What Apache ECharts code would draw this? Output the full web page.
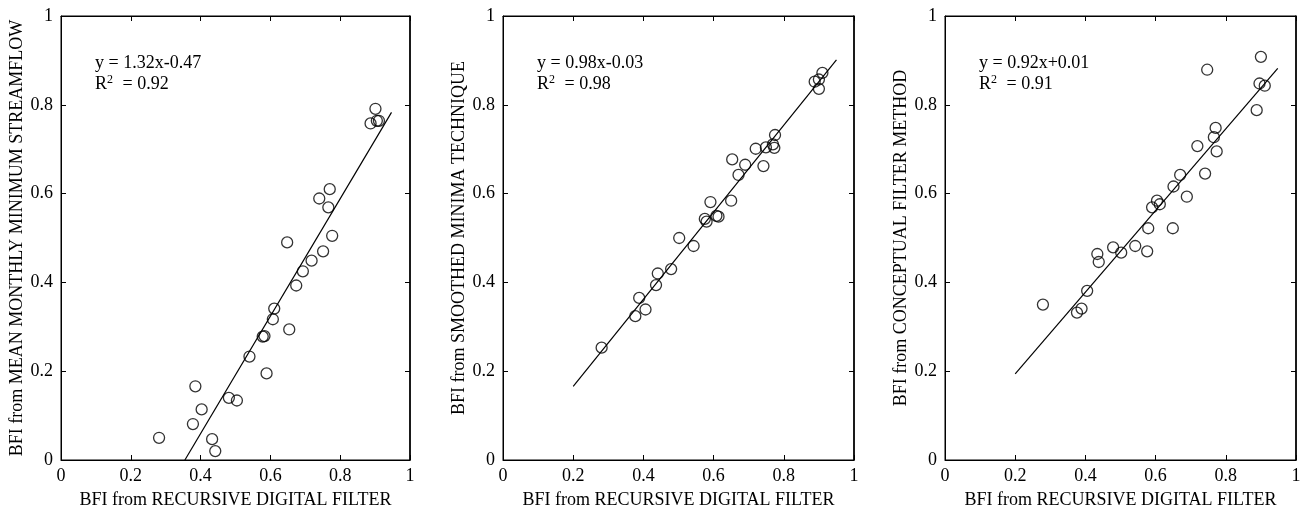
<!DOCTYPE html>
<html>
<head>
<meta charset="utf-8">
<script src="https://cdn.jsdelivr.net/npm/echarts@6/dist/echarts.min.js"></script>
<style>
  html, body { margin: 0; padding: 0; background: #fff; }
  #chart { width: 1302px; height: 512px; }
</style>
</head>
<body>
<div id="chart"></div>
<script>
// BFI from recursive digital filter (x) vs other methods (y)
const x1 = [0.281, 0.378, 0.385, 0.403, 0.433, 0.442, 0.481, 0.504, 0.540, 0.578, 0.583, 0.589, 0.607, 0.611, 0.648, 0.654, 0.674, 0.693, 0.718, 0.740, 0.751, 0.766, 0.770, 0.777, 0.887, 0.901, 0.905, 0.911];
const y1 = [0.050, 0.081, 0.166, 0.114, 0.047, 0.020, 0.140, 0.134, 0.233, 0.278, 0.279, 0.195, 0.317, 0.341, 0.490, 0.294, 0.393, 0.425, 0.449, 0.589, 0.470, 0.569, 0.610, 0.505, 0.758, 0.791, 0.764, 0.764];

const x2 = [0.281, 0.377, 0.388, 0.406, 0.436, 0.441, 0.479, 0.502, 0.543, 0.575, 0.580, 0.591, 0.608, 0.614, 0.650, 0.653, 0.671, 0.690, 0.720, 0.742, 0.749, 0.769, 0.773, 0.775, 0.888, 0.900, 0.900, 0.910];
const y2 = [0.253, 0.324, 0.365, 0.339, 0.394, 0.420, 0.430, 0.500, 0.482, 0.543, 0.537, 0.581, 0.550, 0.548, 0.584, 0.677, 0.642, 0.665, 0.701, 0.662, 0.704, 0.711, 0.703, 0.732, 0.852, 0.857, 0.836, 0.872];

const x3 = [0.279, 0.376, 0.389, 0.405, 0.434, 0.438, 0.479, 0.502, 0.542, 0.576, 0.579, 0.590, 0.604, 0.612, 0.649, 0.651, 0.670, 0.689, 0.719, 0.741, 0.747, 0.766, 0.771, 0.774, 0.888, 0.896, 0.900, 0.911];
const y3 = [0.350, 0.332, 0.341, 0.381, 0.464, 0.446, 0.479, 0.467, 0.482, 0.470, 0.522, 0.569, 0.584, 0.576, 0.522, 0.616, 0.642, 0.593, 0.707, 0.645, 0.879, 0.727, 0.748, 0.695, 0.788, 0.848, 0.908, 0.843];

// regression line end points
const fitX1 = [0.355, 0.947];
const fitY1 = [0.0, 0.783];
const fitX2 = [0.2, 0.95];
const fitY2 = [0.166, 0.901];
const fitX3 = [0.2, 0.948];
const fitY3 = [0.194, 0.882];

const equations = ["y = 1.32x-0.47", "y = 0.98x-0.03", "y = 0.92x+0.01"];
const rSquared = ["0.92", "0.98", "0.91"];

const xTitle = "BFI from RECURSIVE DIGITAL FILTER";
const yTitles = [
  "BFI from MEAN MONTHLY MINIMUM STREAMFLOW",
  "BFI from SMOOTHED MINIMA TECHNIQUE",
  "BFI from CONCEPTUAL FILTER METHOD"
];

const axisMin = 0;
const axisMax = 1;
const axisStep = 0.2;

const font = "Liberation Serif";
const gridLefts = [61, 503, 945];
const gridWidths = [349, 351, 351];

const panels = [
  { xs: x1, ys: y1, fx: fitX1, fy: fitY1 },
  { xs: x2, ys: y2, fx: fitX2, fy: fitY2 },
  { xs: x3, ys: y3, fx: fitX3, fy: fitY3 }
];

const zip = (a, b) => a.map((v, i) => [v, b[i]]);

const grid = [];
const xAxis = [];
const yAxis = [];
const series = [];
const title = [];

const baseAxis = (extra) => Object.assign({
  type: "value",
  min: axisMin,
  max: axisMax,
  interval: axisStep,
  splitLine: { show: false },
  axisLine: { show: true, onZero: false, lineStyle: { color: "#000", width: 1 } },
  axisTick: { show: true, inside: true, length: 5, lineStyle: { color: "#000" } },
  axisLabel: { show: false }
}, extra);

panels.forEach((p, i) => {
  grid.push({
    left: gridLefts[i],
    top: 16,
    width: gridWidths[i],
    height: 444,
    outerBoundsMode: "none",
    containLabel: false,
    show: true,
    borderColor: "#000",
    borderWidth: 1
  });

  xAxis.push(baseAxis({
    gridIndex: i,
    position: "bottom",
    name: xTitle,
    nameLocation: "middle",
    nameGap: 31,
    nameTextStyle: { fontFamily: font, fontSize: 18, color: "#000" },
    axisLabel: { show: true, margin: 7, fontFamily: font, fontSize: 18, color: "#000" }
  }));
  xAxis.push(baseAxis({ gridIndex: i, position: "top" }));

  yAxis.push(baseAxis({
    gridIndex: i,
    position: "left",
    name: yTitles[i],
    nameLocation: "middle",
    nameGap: 35,
    nameTextStyle: { fontFamily: font, fontSize: 18, color: "#000" },
    axisLabel: { show: true, margin: 8, fontFamily: font, fontSize: 18, color: "#000" }
  }));
  yAxis.push(baseAxis({ gridIndex: i, position: "right", axisLine: { show: true, onZero: false, lineStyle: { color: "#000", width: 1.6 } } }));

  series.push({
    type: "scatter",
    xAxisIndex: i * 2,
    yAxisIndex: i * 2,
    symbol: "circle",
    symbolSize: 11,
    itemStyle: { color: "rgba(255,255,255,0)", borderColor: "#000", borderWidth: 1.3 },
    data: zip(p.xs, p.ys),
    z: 3
  });
  series.push({
    type: "line",
    xAxisIndex: i * 2,
    yAxisIndex: i * 2,
    symbol: "none",
    lineStyle: { color: "#000", width: 1.2 },
    data: zip(p.fx, p.fy),
    z: 2
  });

  title.push({
    left: gridLefts[i] + 34,
    top: 53,
    padding: 0,
    text: equations[i] + "\nR{sup|2} = " + rSquared[i],
    textStyle: {
      fontFamily: font,
      fontSize: 18,
      fontWeight: "normal",
      color: "#000",
      lineHeight: 21,
      rich: {
        sup: { fontFamily: font, fontSize: 12, color: "#000", verticalAlign: "top", lineHeight: 21, padding: [0, 5, 6, 0] }
      }
    }
  });
});

const chart = echarts.init(document.getElementById("chart"));
chart.setOption({
  animation: false,
  backgroundColor: "#fff",
  title: title,
  grid: grid,
  xAxis: xAxis,
  yAxis: yAxis,
  series: series
});
</script>
</body>
</html>
